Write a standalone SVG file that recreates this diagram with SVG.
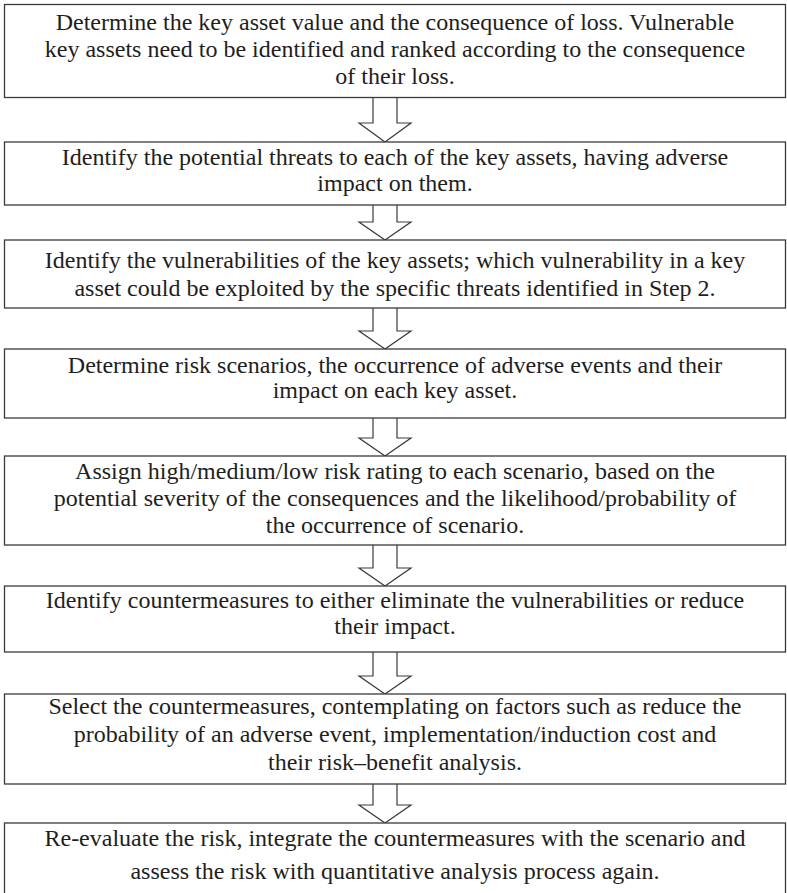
<svg xmlns="http://www.w3.org/2000/svg" width="787" height="893" viewBox="0 0 787 893">
<defs>
<style>
.box{fill:#fff;stroke:#3a3a3a;stroke-width:1.3}
.arr{fill:#fff;stroke:#3a3a3a;stroke-width:1.2;stroke-linejoin:miter}
text{font-family:"Liberation Serif","DejaVu Serif",serif;font-size:24px;fill:#1e1e1e;text-anchor:middle}
</style>
</defs>
<rect width="787" height="893" fill="#fff"/>
<g id="connectors">
<path class="arr" d="M373,97.5 V123 H359 L385,142 L411,123 H397 V97.5"/>
<path class="arr" d="M373,205 V222 H359 L385,240 L411,222 H397 V205"/>
<path class="arr" d="M373,308 V331 H359 L385,349 L411,331 H397 V308"/>
<path class="arr" d="M373,418 V438 H359 L385,456 L411,438 H397 V418"/>
<path class="arr" d="M373,545 V568 H359 L385,586 L411,568 H397 V545"/>
<path class="arr" d="M373,652 V676 H359 L385,694 L411,676 H397 V652"/>
<path class="arr" d="M373,784 V805 H359 L385,823 L411,805 H397 V784"/>
</g>
<g id="step1">
<rect class="box" x="4.5" y="4.5" width="781" height="93"/>
<text x="395" y="30">Determine the key asset value and the consequence of loss. Vulnerable</text>
<text x="395" y="57">key assets need to be identified and ranked according to the consequence</text>
<text x="395" y="84">of their loss.</text>
</g>
<g id="step2">
<rect class="box" x="4.5" y="142" width="781" height="63"/>
<text x="395" y="165">Identify the potential threats to each of the key assets, having adverse</text>
<text x="395" y="191">impact on them.</text>
</g>
<g id="step3">
<rect class="box" x="4.5" y="240" width="781" height="68"/>
<text x="395" y="268">Identify the vulnerabilities of the key assets; which vulnerability in a key</text>
<text x="395" y="296">asset could be exploited by the specific threats identified in Step 2.</text>
</g>
<g id="step4">
<rect class="box" x="4.5" y="349" width="781" height="69"/>
<text x="395" y="373">Determine risk scenarios, the occurrence of adverse events and their</text>
<text x="395" y="398">impact on each key asset.</text>
</g>
<g id="step5">
<rect class="box" x="4.5" y="456" width="781" height="89"/>
<text x="395" y="479">Assign high/medium/low risk rating to each scenario, based on the</text>
<text x="395" y="506">potential severity of the consequences and the likelihood/probability of</text>
<text x="395" y="533">the occurrence of scenario.</text>
</g>
<g id="step6">
<rect class="box" x="4.5" y="586" width="781" height="66"/>
<text x="395" y="608">Identify countermeasures to either eliminate the vulnerabilities or reduce</text>
<text x="395" y="634">their impact.</text>
</g>
<g id="step7">
<rect class="box" x="4.5" y="694" width="781" height="90"/>
<text x="395" y="714">Select the countermeasures, contemplating on factors such as reduce the</text>
<text x="395" y="742">probability of an adverse event, implementation/induction cost and</text>
<text x="395" y="770">their risk–benefit analysis.</text>
</g>
<g id="step8">
<rect class="box" x="4.5" y="823" width="781" height="85"/>
<text x="395" y="846">Re-evaluate the risk, integrate the countermeasures with the scenario and</text>
<text x="395" y="879">assess the risk with quantitative analysis process again.</text>
</g>
</svg>
